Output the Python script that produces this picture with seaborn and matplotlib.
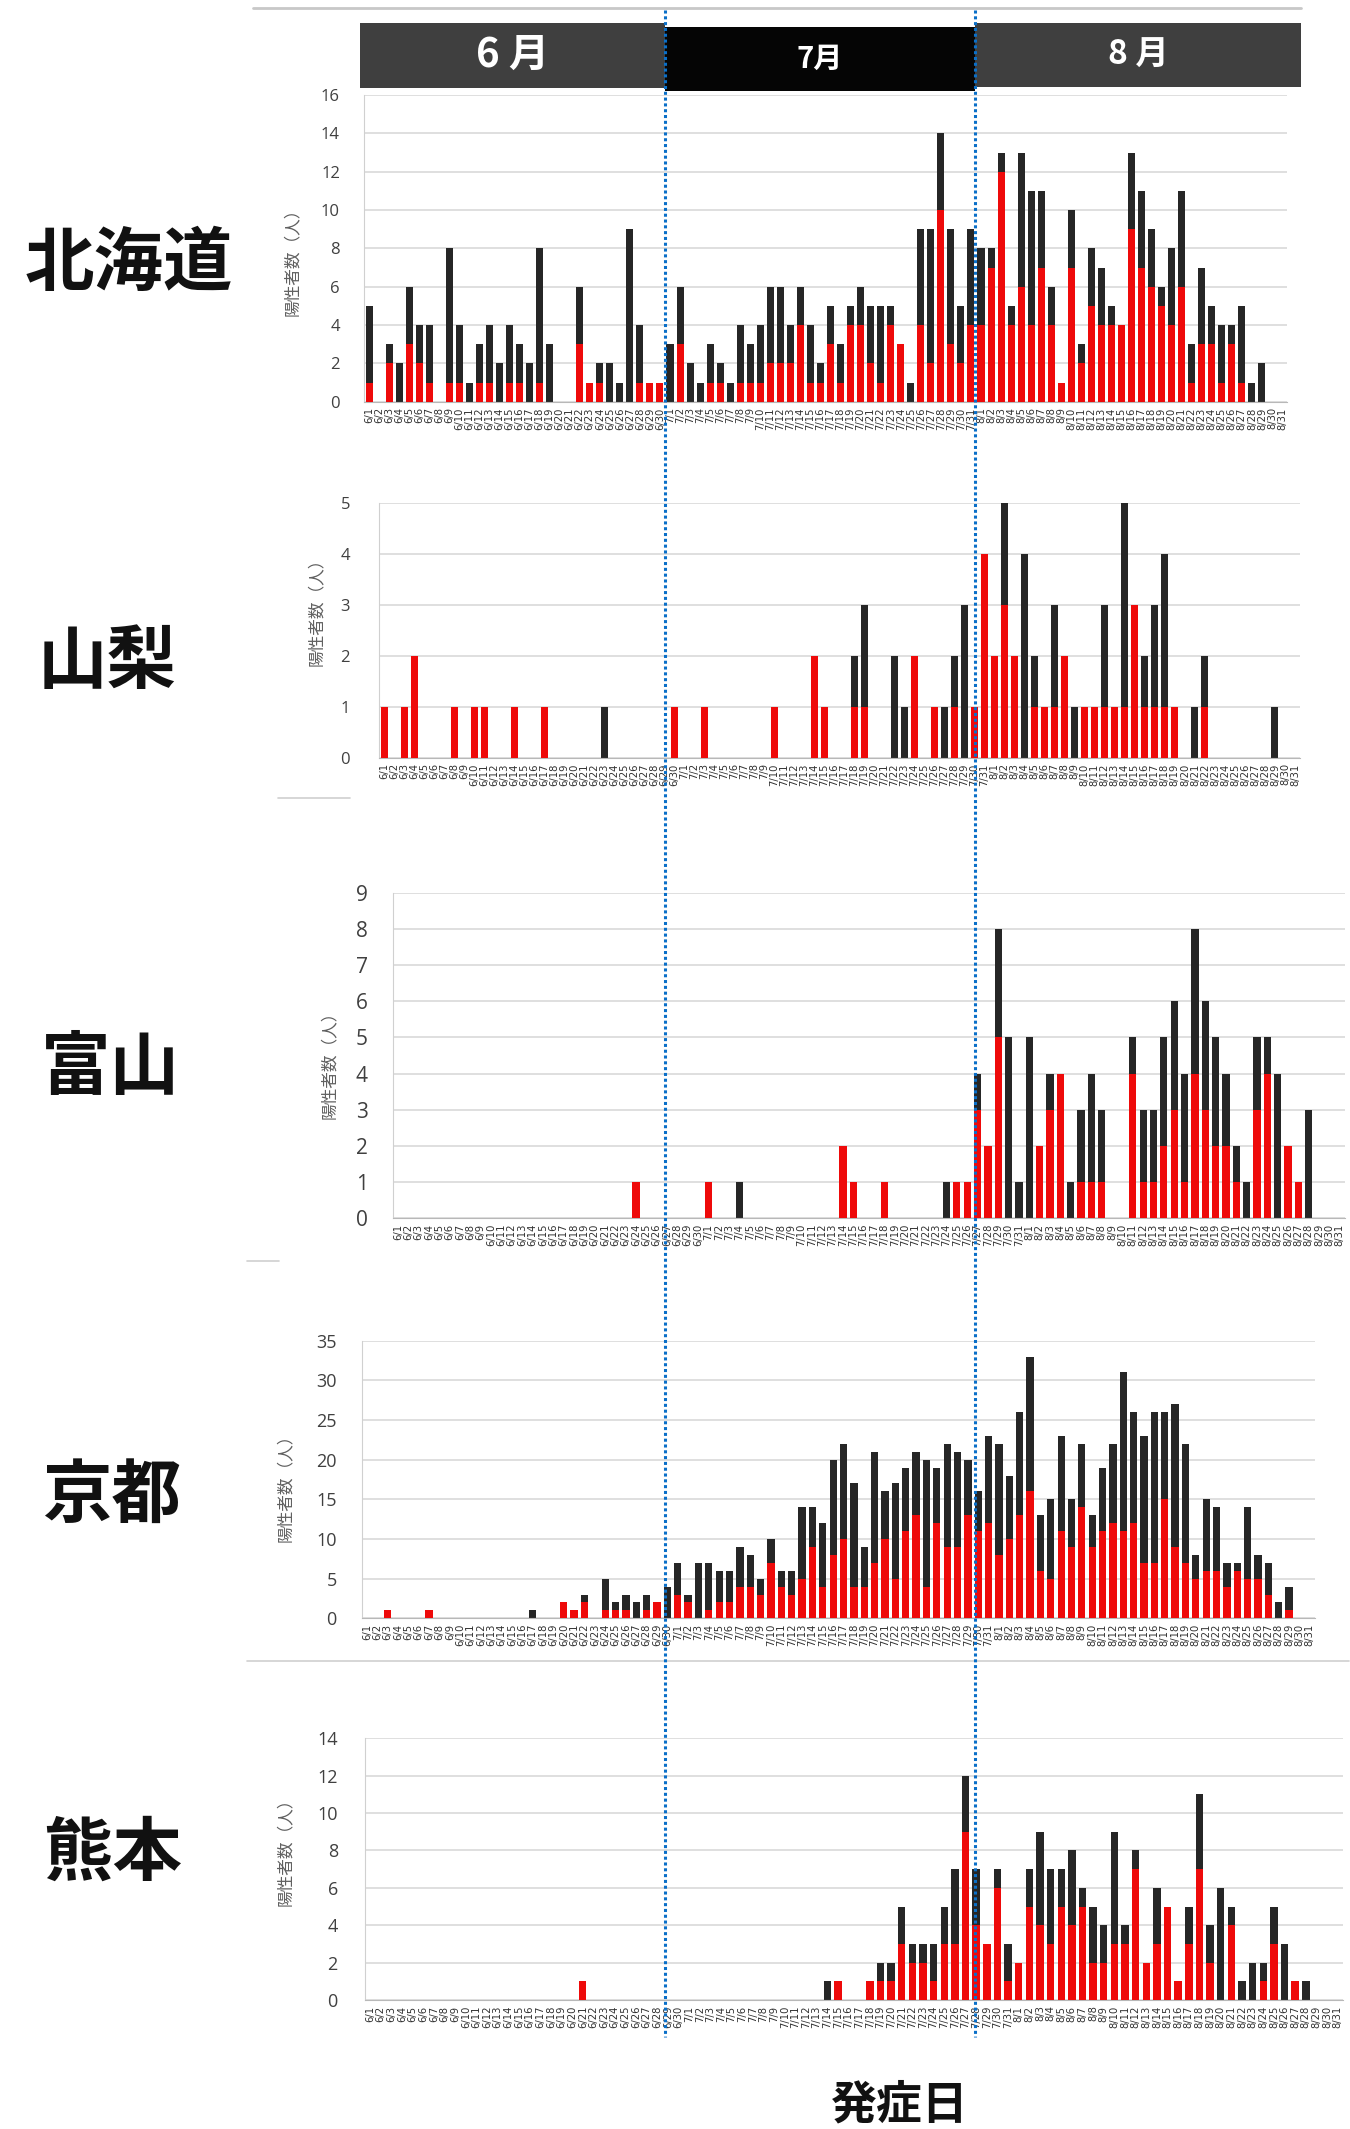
import matplotlib
matplotlib.use('Agg')
import matplotlib.pyplot as plt
from matplotlib.patches import Rectangle
import seaborn as sns
import pandas as pd

# dates 6/1 .. 8/31
dates = ([f'6/{d}' for d in range(1, 31)] + [f'7/{d}' for d in range(1, 32)]
         + [f'8/{d}' for d in range(1, 32)])

# daily positives: total (black top) and red part, June | July | August
hokkaido_total = [5, 0, 3, 2, 6, 4, 4, 0, 8, 4, 1, 3, 4, 2, 4, 3, 2, 8, 3, 0, 0, 6, 1, 2, 2, 1, 9, 4, 1, 1,
                  3, 6, 2, 1, 3, 2, 1, 4, 3, 4, 6, 6, 4, 6, 4, 2, 5, 3, 5, 6, 5, 5, 5, 3, 1, 9, 9, 14, 9, 5, 9,
                  8, 8, 13, 5, 13, 11, 11, 6, 1, 10, 3, 8, 7, 5, 4, 13, 11, 9, 6, 8, 11, 3, 7, 5, 4, 4, 5, 1, 2, 0, 0]
hokkaido_red = [1, 0, 2, 0, 3, 2, 1, 0, 1, 1, 0, 1, 1, 0, 1, 1, 0, 1, 0, 0, 0, 3, 1, 1, 0, 0, 0, 1, 1, 1,
                0, 3, 0, 0, 1, 1, 0, 1, 1, 1, 2, 2, 2, 4, 1, 1, 3, 1, 4, 4, 2, 1, 4, 3, 0, 4, 2, 10, 3, 2, 4,
                4, 7, 12, 4, 6, 4, 7, 4, 1, 7, 2, 5, 4, 4, 4, 9, 7, 6, 5, 4, 6, 1, 3, 3, 1, 3, 1, 0, 0, 0, 0]

yamanashi_total = [1, 0, 1, 2, 0, 0, 0, 1, 0, 1, 1, 0, 0, 1, 0, 0, 1, 0, 0, 0, 0, 0, 1, 0, 0, 0, 0, 0, 0, 1,
                   0, 0, 1, 0, 0, 0, 0, 0, 0, 1, 0, 0, 0, 2, 1, 0, 0, 2, 3, 0, 0, 2, 1, 2, 0, 1, 1, 2, 3, 1, 4,
                   2, 5, 2, 4, 2, 1, 3, 2, 1, 1, 1, 3, 1, 5, 3, 2, 3, 4, 1, 0, 1, 2, 0, 0, 0, 0, 0, 0, 1, 0, 0]
yamanashi_red = [1, 0, 1, 2, 0, 0, 0, 1, 0, 1, 1, 0, 0, 1, 0, 0, 1, 0, 0, 0, 0, 0, 0, 0, 0, 0, 0, 0, 0, 1,
                 0, 0, 1, 0, 0, 0, 0, 0, 0, 1, 0, 0, 0, 2, 1, 0, 0, 1, 1, 0, 0, 0, 0, 2, 0, 1, 0, 1, 0, 1, 4,
                 2, 3, 2, 0, 1, 1, 1, 2, 0, 1, 1, 1, 1, 1, 3, 1, 1, 1, 1, 0, 0, 1, 0, 0, 0, 0, 0, 0, 0, 0, 0]

toyama_total = [0, 0, 0, 0, 0, 0, 0, 0, 0, 0, 0, 0, 0, 0, 0, 0, 0, 0, 0, 0, 0, 0, 0, 1, 0, 0, 0, 0, 0, 0,
                1, 0, 0, 1, 0, 0, 0, 0, 0, 0, 0, 0, 0, 2, 1, 0, 0, 1, 0, 0, 0, 0, 0, 1, 1, 1, 4, 2, 8, 5, 1,
                5, 2, 4, 4, 1, 3, 4, 3, 0, 0, 5, 3, 3, 5, 6, 4, 8, 6, 5, 4, 2, 1, 5, 5, 4, 2, 1, 3, 0, 0, 0]
toyama_red = [0, 0, 0, 0, 0, 0, 0, 0, 0, 0, 0, 0, 0, 0, 0, 0, 0, 0, 0, 0, 0, 0, 0, 1, 0, 0, 0, 0, 0, 0,
              1, 0, 0, 0, 0, 0, 0, 0, 0, 0, 0, 0, 0, 2, 1, 0, 0, 1, 0, 0, 0, 0, 0, 0, 1, 1, 3, 2, 5, 0, 0,
              0, 2, 3, 4, 0, 1, 1, 1, 0, 0, 4, 1, 1, 2, 3, 1, 4, 3, 2, 2, 1, 0, 3, 4, 0, 2, 1, 0, 0, 0, 0]

kyoto_total = [0, 0, 1, 0, 0, 0, 1, 0, 0, 0, 0, 0, 0, 0, 0, 0, 1, 0, 0, 2, 1, 3, 0, 5, 2, 3, 2, 3, 2, 4,
               7, 3, 7, 7, 6, 6, 9, 8, 5, 10, 6, 6, 14, 14, 12, 20, 22, 17, 9, 21, 16, 17, 19, 21, 20, 19, 22, 21, 20, 16, 23,
               22, 18, 26, 33, 13, 15, 23, 15, 22, 13, 19, 22, 31, 26, 23, 26, 26, 27, 22, 8, 15, 14, 7, 7, 14, 8, 7, 2, 4, 0, 0]
kyoto_red = [0, 0, 1, 0, 0, 0, 1, 0, 0, 0, 0, 0, 0, 0, 0, 0, 0, 0, 0, 2, 1, 2, 0, 1, 1, 1, 0, 1, 2, 0,
             3, 2, 0, 1, 2, 2, 4, 4, 3, 7, 4, 3, 5, 9, 4, 8, 10, 4, 4, 7, 10, 5, 11, 13, 4, 12, 9, 9, 13, 11, 12,
             8, 10, 13, 16, 6, 5, 11, 9, 14, 9, 11, 12, 11, 12, 7, 7, 15, 9, 7, 5, 6, 6, 4, 6, 5, 5, 3, 0, 1, 0, 0]

kumamoto_total = [0, 0, 0, 0, 0, 0, 0, 0, 0, 0, 0, 0, 0, 0, 0, 0, 0, 0, 0, 0, 1, 0, 0, 0, 0, 0, 0, 0, 0, 0,
                  0, 0, 0, 0, 0, 0, 0, 0, 0, 0, 0, 0, 0, 1, 1, 0, 0, 1, 2, 2, 5, 3, 3, 3, 5, 7, 12, 7, 3, 7, 3,
                  2, 7, 9, 7, 7, 8, 6, 5, 4, 9, 4, 8, 2, 6, 5, 1, 5, 11, 4, 6, 5, 1, 2, 2, 5, 3, 1, 1, 0, 0, 0]
kumamoto_red = [0, 0, 0, 0, 0, 0, 0, 0, 0, 0, 0, 0, 0, 0, 0, 0, 0, 0, 0, 0, 1, 0, 0, 0, 0, 0, 0, 0, 0, 0,
                0, 0, 0, 0, 0, 0, 0, 0, 0, 0, 0, 0, 0, 0, 1, 0, 0, 1, 1, 1, 3, 2, 2, 1, 3, 3, 9, 4, 3, 6, 1,
                2, 5, 4, 3, 5, 4, 5, 2, 2, 3, 3, 7, 2, 3, 5, 1, 3, 7, 2, 0, 4, 0, 0, 1, 3, 0, 1, 0, 0, 0, 0]

months = ['6 月', '7月', '8 月']
y_label = '陽性者数（人）'
x_title = '発症日'

RED = '#ee0a0a'
BLACK = '#262626'

sns.set_style('white')
plt.rcParams['font.family'] = ['Noto Sans CJK JP', 'DejaVu Sans']

W, H = 1350, 2129
fig = plt.figure(figsize=(W / 100, H / 100), dpi=100)

# name, total, red, (x0, x1, ytop, ybottom) in px, ymax, ystep, tick size, tick pad px, name pos, ylabel pos
panels = [
    ('北海道', hokkaido_total, hokkaido_red, (364, 1287, 95, 401.7), 16, 2, 12, 24, (129, 265), (292, 258)),
    ('山梨', yamanashi_total, yamanashi_red, (379, 1300, 502.7, 757.7), 5, 1, 12, 29, (107, 663), (316, 608)),
    ('富山', toyama_total, toyama_red, (392.7, 1345, 892.7, 1218.3), 9, 1, 15, 25, (110, 1069), (329, 1061)),
    ('京都', kyoto_total, kyoto_red, (361.7, 1315, 1340.7, 1618.3), 35, 5, 13, 25, (112, 1497), (285, 1484)),
    ('熊本', kumamoto_total, kumamoto_red, (364.8, 1343, 1738.3, 2000), 14, 2, 13, 27, (113, 1854), (285, 1848)),
]

for name, total, red, (x0, x1, yt, yb), ymax, ystep, tsize, tpad, _, _ in panels:
    ax = fig.add_axes([x0 / W, 1 - yb / H, (x1 - x0) / W, (yb - yt) / H])
    df = pd.DataFrame({'date': dates, 'total': total, 'red': red})
    sns.barplot(data=df, x='date', y='total', color=BLACK, saturation=1, width=0.7,
                linewidth=0, ax=ax, zorder=2)
    sns.barplot(data=df, x='date', y='red', color=RED, saturation=1, width=0.7,
                linewidth=0, ax=ax, zorder=3)
    ax.set_xlim(-0.5, len(dates) - 0.5)
    ax.set_ylim(0, ymax)
    ax.set_yticks(range(0, ymax + 1, ystep))
    ax.set_xticks(range(len(dates)))
    ax.set_xticklabels(dates, rotation=90, fontsize=7.2, color='#303030', family='DejaVu Sans')
    ax.set_xlabel('')
    ax.set_ylabel('')
    ax.yaxis.grid(True, color='#dcdcdc', lw=1.3)
    ax.set_axisbelow(True)
    ax.tick_params(axis='y', length=0, pad=tpad * 0.72, labelsize=tsize, labelcolor='#404040')
    ax.tick_params(axis='x', length=3, color='#b0b0b0', pad=1)
    for lab in ax.get_yticklabels():
        lab.set_family('Open Sans')
    for s in ['top', 'right']:
        ax.spines[s].set_visible(False)
    ax.spines['left'].set_color('#d0d0d0')
    ax.spines['bottom'].set_color('#b8b8b8')

# overlay in pixel coordinates
ov = fig.add_axes([0, 0, 1, 1], zorder=10)
ov.set_xlim(0, W)
ov.set_ylim(H, 0)
ov.axis('off')

ov.plot([253, 1301], [8, 8], color='#c8c8c8', lw=2)
ov.plot([247, 1349], [1661, 1661], color='#d0d0d0', lw=1.2)
ov.plot([278, 350], [798, 798], color='#d0d0d0', lw=1.2)
ov.plot([247, 279], [1261, 1261], color='#d0d0d0', lw=1.2)

# month header boxes
boxes = [(360, 23, 305, 65, '#3f3f3f', 29), (665, 27, 310, 64, '#050505', 21), (975, 23, 326, 64, '#3f3f3f', 24)]
for (bx, by, bw, bh, bc, fs), m in zip(boxes, months):
    ov.add_patch(Rectangle((bx, by), bw, bh, color=bc, lw=0))
    ov.text(bx + bw / 2, by + bh / 2, m, color='white', fontsize=fs, fontweight='bold',
            ha='center', va='center')

for name, *_, (nx, ny), (lx, ly) in panels:
    ov.text(nx, ny, name, fontsize=50, fontweight='bold', ha='center', va='center', color='#111111')
    ov.text(lx, ly, y_label, fontsize=12, rotation=90, ha='center', va='center', color='#606060')

for vx in [665, 975]:
    ov.plot([vx, vx], [10, 2037], color='#0a6fc8', lw=2.2, linestyle=(0, (1, 0.9)))

ov.text(900, 2105, x_title, fontsize=33, fontweight='bold', ha='center', va='center', color='#111111')

fig.savefig('out.png', dpi=100)
